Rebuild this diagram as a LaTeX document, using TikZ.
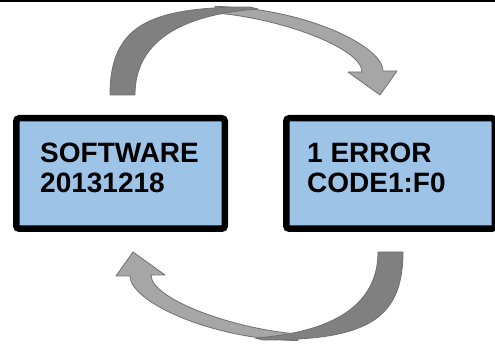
\documentclass[tikz,border=0pt]{standalone}
\usepackage{fontspec}
\setmainfont{Liberation Sans}
\usetikzlibrary{calc}

\definecolor{screenblue}{RGB}{157,195,230}
\definecolor{arrowdark}{RGB}{128,128,128}
\definecolor{arrowlight}{RGB}{166,166,166}
\definecolor{arrowedge}{RGB}{112,112,112}

\tikzset{
  screen/.style={draw=black, line width=6.5pt, fill=screenblue, rounded corners=3pt,
    minimum width=208.5pt, minimum height=110.5pt, inner sep=0pt},
  readout/.style={font=\fontsize{28}{30}\selectfont\bfseries, align=left,
    inner sep=0pt, anchor=base west},
  backpart/.style={fill=arrowdark, draw=arrowedge, line width=0.8pt, line join=round},
  frontpart/.style={fill=arrowlight, draw=arrowedge, line width=0.8pt, line join=round},
  % bent block arrow, tail at the left, head pointing down at the right
  looparrow/.pic={
    \path[frontpart] (215,338.5) .. controls (300,338) and (383,300) .. (383,274)
      -- (397,274) -- (380,250) -- (348,273) -- (362,273)
      .. controls (362,297) and (280,327) .. (215,332) -- cycle;
    \path[backpart] (110,250) .. controls (110,320) and (150,338) .. (250,338)
      -- (258,336) .. controls (175,330) and (135,300) .. (135,250) -- cycle;
  }
}

\begin{document}
\begin{tikzpicture}[x=1pt,y=1pt]
\useasboundingbox (0,0) rectangle (495,345);
\fill[black] (0,342.5) rectangle (495,345);

% the two display panels
\node[screen] (sw) at (120.5,171.5) {};
\node[screen] (err) at (390.5,171.5) {};
% base of a two-line node sits on its last line
\node[readout] (swtext) at (40,152) {SOFTWARE\\20131218};
\node[readout] (errtext) at (307,152) {1 ERROR\\CODE1:F0};

% arrows going round between them
\pic at (0,0) {looparrow};
\pic[rotate=180] at (513,343) {looparrow};
\end{tikzpicture}
\end{document}
